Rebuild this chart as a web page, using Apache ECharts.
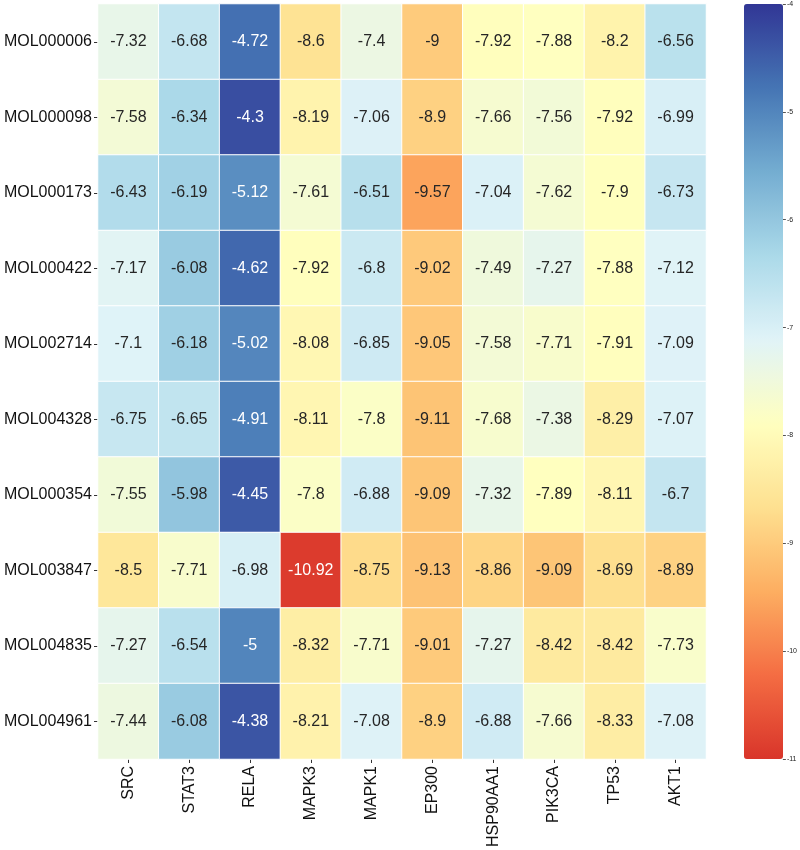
<!DOCTYPE html>
<html>
<head>
<meta charset="utf-8">
<script src="https://cdn.jsdelivr.net/npm/echarts@6/dist/echarts.min.js"></script>
<style>html,body{margin:0;padding:0;background:#fff}#main{width:800px;height:850px}</style>
</head>
<body>
<div id="main"></div>
<script>
const targets = ['SRC','STAT3','RELA','MAPK3','MAPK1','EP300','HSP90AA1','PIK3CA','TP53','AKT1'];
const molecules = ['MOL000006','MOL000098','MOL000173','MOL000422','MOL002714','MOL004328','MOL000354','MOL003847','MOL004835','MOL004961'];
const MOL000006 = [-7.32,-6.68,-4.72,-8.6,-7.4,-9,-7.92,-7.88,-8.2,-6.56];
const MOL000098 = [-7.58,-6.34,-4.3,-8.19,-7.06,-8.9,-7.66,-7.56,-7.92,-6.99];
const MOL000173 = [-6.43,-6.19,-5.12,-7.61,-6.51,-9.57,-7.04,-7.62,-7.9,-6.73];
const MOL000422 = [-7.17,-6.08,-4.62,-7.92,-6.8,-9.02,-7.49,-7.27,-7.88,-7.12];
const MOL002714 = [-7.1,-6.18,-5.02,-8.08,-6.85,-9.05,-7.58,-7.71,-7.91,-7.09];
const MOL004328 = [-6.75,-6.65,-4.91,-8.11,-7.8,-9.11,-7.68,-7.38,-8.29,-7.07];
const MOL000354 = [-7.55,-5.98,-4.45,-7.8,-6.88,-9.09,-7.32,-7.89,-8.11,-6.7];
const MOL003847 = [-8.5,-7.71,-6.98,-10.92,-8.75,-9.13,-8.86,-9.09,-8.69,-8.89];
const MOL004835 = [-7.27,-6.54,-5,-8.32,-7.71,-9.01,-7.27,-8.42,-8.42,-7.73];
const MOL004961 = [-7.44,-6.08,-4.38,-8.21,-7.08,-8.9,-6.88,-7.66,-8.33,-7.08];
const rows = [MOL000006,MOL000098,MOL000173,MOL000422,MOL002714,MOL004328,MOL000354,MOL003847,MOL004835,MOL004961];
const colorbarTicks = [-11,-10,-9,-8,-7,-6,-5,-4];

const FONT = 'Liberation Sans, Arial, sans-serif';
const data = [];
rows.forEach((r, yi) => r.forEach((v, xi) => {
  const dark = v > -5.3 || v < -10.5;
  data.push({value: [xi, yi, v], label: {color: dark ? '#ffffff' : '#262626'}});
}));

const chart = echarts.init(document.getElementById('main'), null, {renderer: 'canvas'});
chart.setOption({
  animation: false,
  backgroundColor: '#fff',
  grid: [
    {left: 98, right: 94, top: 4, bottom: 91},
    {left: 744, width: 39, top: 4, bottom: 91}
  ],
  xAxis: [
    {type: 'category', data: targets, gridIndex: 0,
     axisLine: {show: false}, splitLine: {show: false}, splitArea: {show: false},
     axisTick: {show: true, alignWithLabel: true, length: 4, lineStyle: {color: '#333'}},
     axisLabel: {rotate: 90, fontSize: 16, color: '#111', fontFamily: FONT, margin: 7}},
    {type: 'value', gridIndex: 1, show: false, min: 0, max: 1}
  ],
  yAxis: [
    {type: 'category', data: molecules, gridIndex: 0, inverse: true,
     axisLine: {show: false}, splitLine: {show: false}, splitArea: {show: false},
     axisTick: {show: true, alignWithLabel: true, length: 4, lineStyle: {color: '#333'}},
     axisLabel: {fontSize: 16, color: '#111', fontFamily: FONT, margin: 6}},
    {type: 'value', gridIndex: 1, position: 'right', min: -11, max: -4, interval: 1,
     axisLine: {show: false, onZero: false}, splitLine: {show: false},
     axisTick: {show: true, length: 3, lineStyle: {color: '#555'}},
     axisLabel: {fontSize: 7, color: '#222', fontFamily: FONT, margin: 4,
       formatter: v => colorbarTicks.includes(v) ? String(v) : ''}}
  ],
  visualMap: {
    type: 'continuous', seriesIndex: 0, min: -11, max: -4,
    calculable: false, orient: 'vertical', hoverLink: false,
    left: 744, top: 4, itemWidth: 39, itemHeight: 755, padding: 0,
    inRange: {color: ['#d9352a','#f46d43','#fdae61','#fee090','#ffffbf','#e0f3f8','#abd9e9','#74add1','#4575b4','#313695']}
  },
  series: [{
    type: 'heatmap', xAxisIndex: 0, yAxisIndex: 0, data: data,
    itemStyle: {borderColor: '#ffffff', borderWidth: 1},
    label: {show: true, fontSize: 16, fontFamily: FONT, formatter: p => String(p.value[2])},
    emphasis: {disabled: true}
  }]
});
</script>
</body>
</html>
